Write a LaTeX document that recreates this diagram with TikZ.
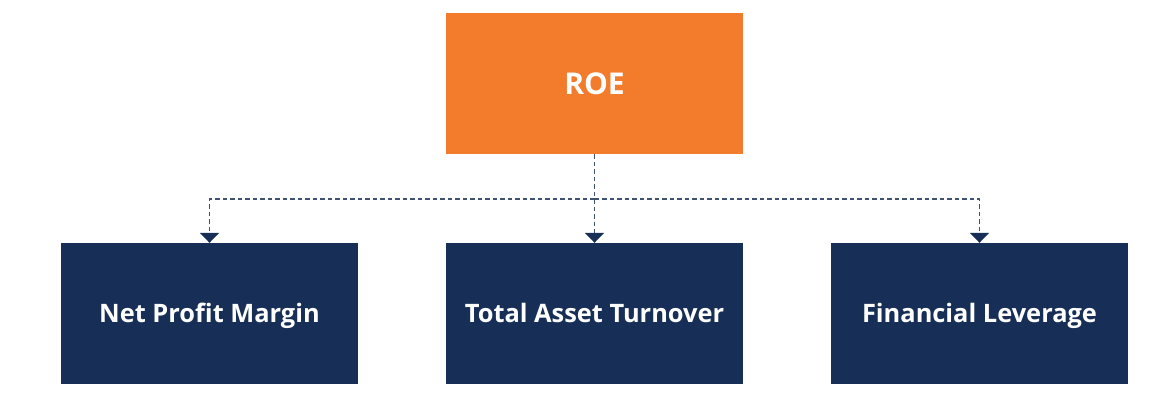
\documentclass[tikz,border=0pt]{standalone}
\usepackage{fontspec}
\setmainfont{Open Sans}
\usetikzlibrary{arrows.meta, positioning}
\definecolor{roeorange}{HTML}{F37B2C}
\definecolor{ratioblue}{HTML}{172F56}
\definecolor{linkgrey}{HTML}{3F5270}

\begin{document}
\begin{tikzpicture}[x=1pt, y=-1pt,
    box/.style={rectangle, inner sep=0pt, minimum width=297pt, minimum height=141pt,
        text height=18pt, text depth=0pt,
        text=white, font=\fontsize{25.4}{30}\selectfont\bfseries},
    topbox/.style={box, fill=roeorange, text height=21.5pt,
        font=\fontsize{30}{36}\selectfont\bfseries},
    ratiobox/.style={box, fill=ratioblue},
    link/.style={draw=linkgrey, line width=1.8pt, dash pattern=on 4.5pt off 3pt,
        -{Triangle[width=19pt, length=10pt, color=ratioblue]}}]
        \useasboundingbox (0,0) rectangle (1168,413);
        \node[topbox] (roe) at (594.5, 83.5) {ROE};
        \node[ratiobox] (margin) at (209.5, 313.5) {Net Profit Margin};
        \node[ratiobox] (turnover) at (594.5, 313.5) {Total Asset Turnover};
        \node[ratiobox] (leverage) at (979.5, 313.5) {Financial Leverage};
        \coordinate (split) at ([yshift=-45pt]roe.south);
        \draw[link] (roe.south) -- (turnover.north);
        \draw[link] (split) -| (margin.north);
        \draw[link] (split) -| (leverage.north);
  \end{tikzpicture}
\end{document}
